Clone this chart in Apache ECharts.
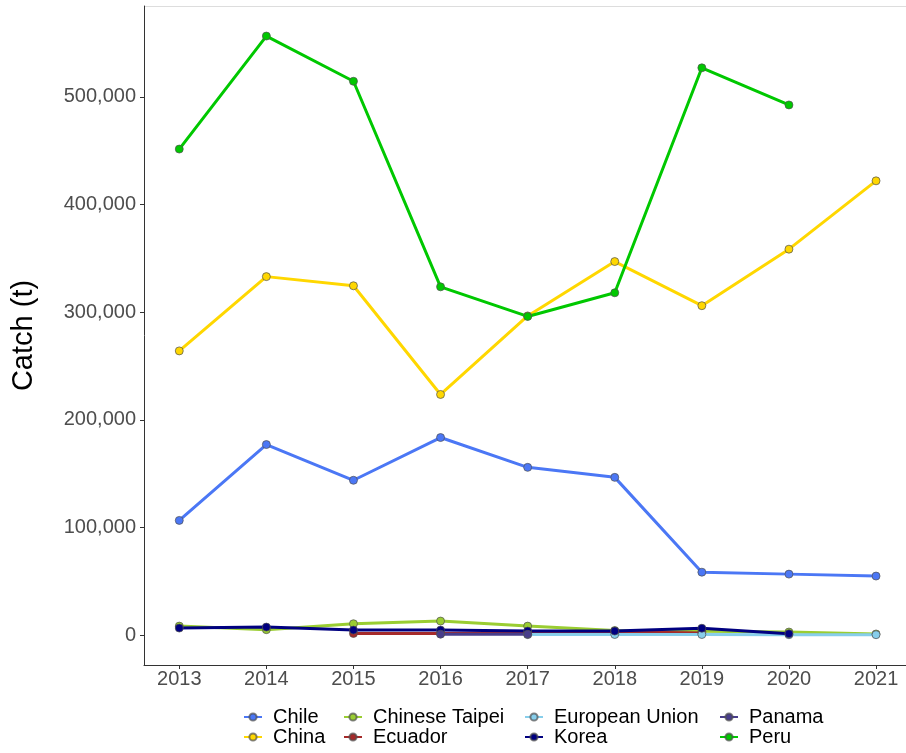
<!DOCTYPE html>
<html><head><meta charset="utf-8">
<script src="https://cdn.jsdelivr.net/npm/echarts@6/dist/echarts.min.js"></script>
<style>html,body{margin:0;padding:0;background:#fff}#c{width:906px;height:753px}</style>
</head><body><div id="c"></div>
<script>
const years = [2013, 2014, 2015, 2016, 2017, 2018, 2019, 2020, 2021];
const yTicks = [0, 100000, 200000, 300000, 400000, 500000];
const chile = [106500, 177000, 143800, 183500, 155800, 146500, 58400, 56600, 54800];
const china = [264000, 333000, 324500, 223500, 296500, 347000, 306000, 358500, 422000];
const chineseTaipei = [8300, 5000, 10500, 13000, 8300, 4200, 3500, 2800, 1000];
const ecuador = [null, null, 1500, 1400, 2000, 3000, 2000, null, null];
const europeanUnion = [null, null, null, null, 400, 500, 500, 300, 300];
const korea = [6500, 7400, 4600, 4600, 3700, 3700, 6300, 1200, null];
const panama = [null, null, null, 800, 700, null, null, null, null];
const peru = [451500, 556500, 514500, 323500, 296000, 318000, 527000, 492500, null];

const seriesDefs = [
  ['Chile', chile, '#4B77F5'],
  ['China', china, '#FFD700'],
  ['Chinese Taipei', chineseTaipei, '#9ACD32'],
  ['Ecuador', ecuador, '#A52A2A'],
  ['European Union', europeanUnion, '#87CEEB'],
  ['Korea', korea, '#000080'],
  ['Panama', panama, '#483D8B'],
  ['Peru', peru, '#00C800']
];

const font = 'Liberation Sans, Arial, sans-serif';
const chart = echarts.init(document.getElementById('c'));

const series = seriesDefs.map(([name, vals, color]) => ({
  name, type: 'line',
  data: years.map((y, i) => vals[i] == null ? null : [y, vals[i]]).filter(d => d),
  symbol: 'circle', symbolSize: 8,
  lineStyle: { color, width: 3 },
  itemStyle: { color, borderColor: 'rgba(80,80,80,0.7)', borderWidth: 1 },
  emphasis: { disabled: true },
  animation: false, z: 2
}));

function legendBlock(names, left) {
  return {
    data: names, orient: 'vertical', left, top: 707, itemGap: 0, padding: 0,
    itemWidth: 18, itemHeight: 9,
    textStyle: { fontFamily: font, fontSize: 20, lineHeight: 20, color: '#000', padding: [0, 0, 0, 6] },
    selectedMode: false
  };
}

chart.setOption({
  animation: false,
  backgroundColor: '#fff',
  grid: { left: 144, right: 0, top: 6, bottom: 88, containLabel: false },
  xAxis: {
    type: 'value', min: 2012.595, max: 2021.344,
    axisLine: { show: true, onZero: false, lineStyle: { color: '#333', width: 1 } },
    axisTick: { show: true, length: 4, lineStyle: { color: '#333' }, customValues: years },
    axisLabel: { customValues: years, fontFamily: font, fontSize: 20, color: '#4D4D4D', margin: 4, formatter: v => String(v) },
    splitLine: { show: false }
  },
  yAxis: {
    type: 'value', min: -27830, max: 584430,
    name: 'Catch (t)', nameLocation: 'middle', nameGap: 106, nameRotate: 90,
    nameTextStyle: { fontFamily: font, fontSize: 29, color: '#000' },
    axisLine: { show: true, onZero: false, lineStyle: { color: '#333', width: 1 } },
    axisTick: { show: true, length: 4, lineStyle: { color: '#333' }, customValues: yTicks },
    axisLabel: { customValues: yTicks, fontFamily: font, fontSize: 20, color: '#4D4D4D', margin: 8,
      formatter: v => v.toLocaleString('en-US') },
    splitLine: { show: false }
  },
  legend: [
    legendBlock(['Chile', 'China'], 243),
    legendBlock(['Chinese Taipei', 'Ecuador'], 343),
    legendBlock(['European Union', 'Korea'], 524),
    legendBlock(['Panama', 'Peru'], 719)
  ],
  graphic: [{ type: 'line', shape: { x1: 144, y1: 6.5, x2: 906, y2: 6.5 }, style: { stroke: '#DDDDDD', lineWidth: 1 }, silent: true }],
  series
});
</script></body></html>
